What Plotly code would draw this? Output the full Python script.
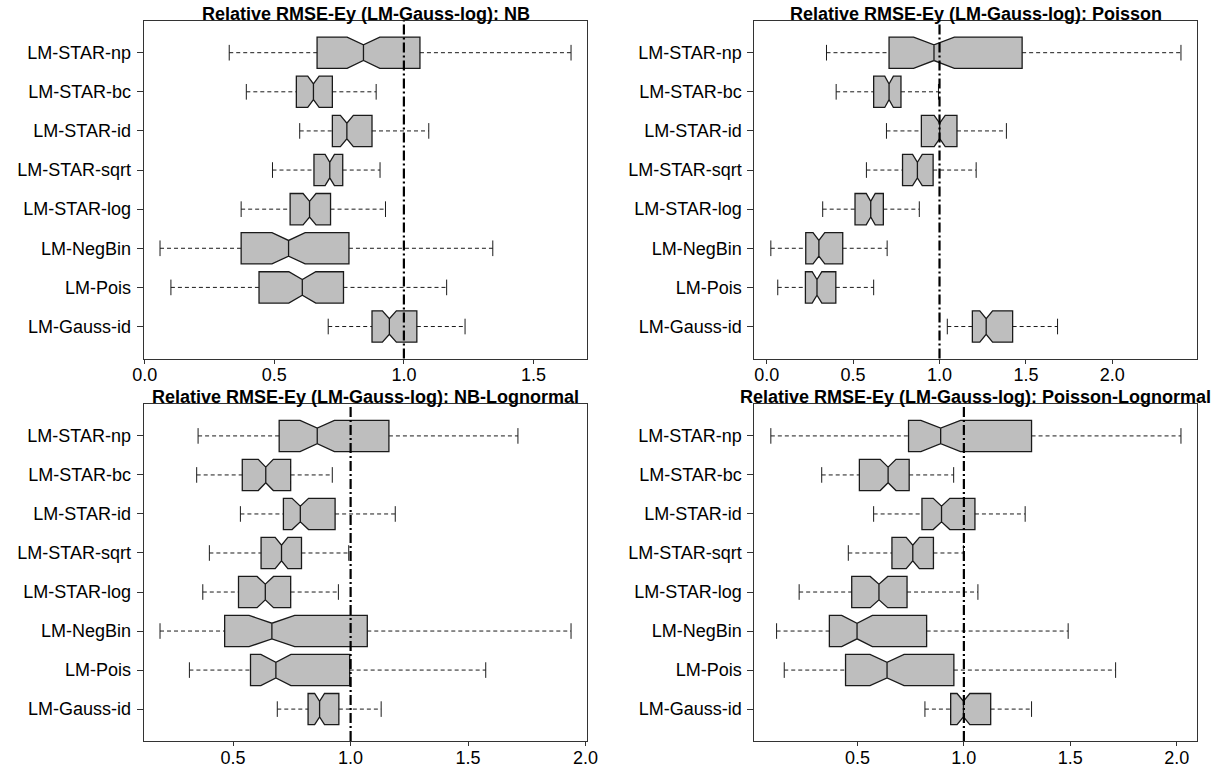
import plotly.graph_objects as go

# ---------------- data ----------------
methods = ["LM-STAR-np", "LM-STAR-bc", "LM-STAR-id", "LM-STAR-sqrt",
           "LM-STAR-log", "LM-NegBin", "LM-Pois", "LM-Gauss-id"]

titles = ["Relative RMSE-Ey (LM-Gauss-log): NB",
          "Relative RMSE-Ey (LM-Gauss-log): Poisson",
          "Relative RMSE-Ey (LM-Gauss-log): NB-Lognormal",
          "Relative RMSE-Ey (LM-Gauss-log): Poisson-Lognormal"]

# Panel 1: NB  (order follows `methods`, top to bottom)
nb_low   = [0.326, 0.392, 0.598, 0.493, 0.372, 0.059, 0.101, 0.708]
nb_q1    = [0.665, 0.585, 0.724, 0.653, 0.561, 0.372, 0.441, 0.877]
nb_med   = [0.844, 0.651, 0.780, 0.714, 0.636, 0.555, 0.608, 0.944]
nb_q3    = [1.062, 0.724, 0.877, 0.764, 0.717, 0.788, 0.767, 1.050]
nb_high  = [1.645, 0.893, 1.096, 0.908, 0.929, 1.343, 1.165, 1.236]
nb_notch = [0.063, 0.022, 0.025, 0.018, 0.025, 0.064, 0.052, 0.027]

# Panel 2: Poisson
po_low   = [0.346, 0.402, 0.693, 0.577, 0.324, 0.024, 0.064, 1.045]
po_q1    = [0.708, 0.619, 0.895, 0.786, 0.511, 0.226, 0.224, 1.190]
po_med   = [0.968, 0.708, 1.001, 0.872, 0.602, 0.302, 0.291, 1.270]
po_q3    = [1.478, 0.777, 1.101, 0.963, 0.675, 0.440, 0.400, 1.423]
po_high  = [2.397, 0.994, 1.387, 1.212, 0.883, 0.697, 0.619, 1.683]
po_notch = [0.118, 0.025, 0.032, 0.028, 0.026, 0.034, 0.028, 0.037]

# Panel 3: NB-Lognormal
nbl_low   = [0.351, 0.345, 0.531, 0.399, 0.371, 0.189, 0.314, 0.688]
nbl_q1    = [0.696, 0.539, 0.714, 0.619, 0.523, 0.464, 0.574, 0.819]
nbl_med   = [0.858, 0.639, 0.786, 0.706, 0.637, 0.665, 0.682, 0.868]
nbl_q3    = [1.163, 0.745, 0.934, 0.791, 0.745, 1.071, 0.996, 0.950]
nbl_high  = [1.712, 0.922, 1.190, 0.992, 0.948, 1.938, 1.575, 1.130]
nbl_notch = [0.073, 0.032, 0.035, 0.027, 0.035, 0.097, 0.064, 0.021]

# Panel 4: Poisson-Lognormal
pol_low   = [0.093, 0.332, 0.576, 0.457, 0.226, 0.120, 0.156, 0.817]
pol_q1    = [0.740, 0.509, 0.803, 0.662, 0.473, 0.368, 0.444, 0.938]
pol_med   = [0.891, 0.644, 0.895, 0.760, 0.601, 0.498, 0.639, 0.998]
pol_q3    = [1.318, 0.743, 1.052, 0.857, 0.733, 0.825, 0.953, 1.126]
pol_high  = [2.020, 0.952, 1.288, 0.998, 1.066, 1.490, 1.713, 1.318]
pol_notch = [0.093, 0.037, 0.039, 0.031, 0.041, 0.072, 0.080, 0.030]

reference_value = 1.0

panels = [
    (nb_low, nb_q1, nb_med, nb_q3, nb_high, nb_notch),
    (po_low, po_q1, po_med, po_q3, po_high, po_notch),
    (nbl_low, nbl_q1, nbl_med, nbl_q3, nbl_high, nbl_notch),
    (pol_low, pol_q1, pol_med, pol_q3, pol_high, pol_notch),
]

# ---------------- layout / style ----------------
W, H = 1228, 768
x_domains = [[135 / W, 587 / W], [757 / W, 1208 / W],
             [135 / W, 587 / W], [757 / W, 1208 / W]]
y_domains = [[1 - 360 / H, 1 - 20.7 / H], [1 - 360 / H, 1 - 20.7 / H],
             [1 - 744 / H, 1 - 405.5 / H], [1 - 744 / H, 1 - 405.5 / H]]

FONT = "Liberation Sans, Arial, Helvetica, sans-serif"
BOX_FILL = "#bebebe"
EDGE = "#1a1a1a"
BOX_W = 0.8
STAPLE = 0.2

n = len(methods)
positions = [n - i for i in range(n)]

fig = go.Figure()
layout_axes = {}
shapes = []
annotations = []

for k, (lo, q1, md, q3, hi, nt) in enumerate(panels):
    sfx = "" if k == 0 else str(k + 1)
    xa, ya = "x" + sfx, "y" + sfx

    # dashed whiskers
    wx, wy = [], []
    for i in range(n):
        wx += [lo[i], q1[i], None, q3[i], hi[i], None]
        wy += [positions[i]] * 2 + [None] + [positions[i]] * 2 + [None]
    fig.add_trace(go.Scatter(x=wx, y=wy, mode="lines",
                             line=dict(color=EDGE, width=1, dash="4px,3px"),
                             hoverinfo="skip", showlegend=False,
                             xaxis=xa, yaxis=ya))
    # staples
    sx, sy = [], []
    for i in range(n):
        for v in (lo[i], hi[i]):
            sx += [v, v, None]
            sy += [positions[i] - STAPLE, positions[i] + STAPLE, None]
    fig.add_trace(go.Scatter(x=sx, y=sy, mode="lines",
                             line=dict(color=EDGE, width=1),
                             hoverinfo="skip", showlegend=False,
                             xaxis=xa, yaxis=ya))

    # notched boxes (whiskers drawn separately as dashed lines)
    fig.add_trace(go.Box(
        orientation="h", y=positions, q1=q1, median=md, q3=q3,
        lowerfence=q1, upperfence=q3, notched=True, notchspan=nt,
        notchwidth=0.25, width=BOX_W, whiskerwidth=0, boxpoints=False,
        fillcolor=BOX_FILL, line=dict(color=EDGE, width=1.3),
        hoverinfo="skip", showlegend=False, xaxis=xa, yaxis=ya))

    dmin, dmax = min(lo), max(hi)
    pad = 0.04 * (dmax - dmin)
    axis_common = dict(showgrid=False, zeroline=False, showline=True,
                       mirror=True, linecolor="#333333", linewidth=1,
                       ticks="outside", tickcolor="#333333",
                       tickfont=dict(family=FONT, size=18, color="black"))
    layout_axes["xaxis" + sfx] = dict(
        axis_common, domain=x_domains[k], anchor=ya,
        range=[dmin - pad, dmax + pad], dtick=0.5, tick0=0,
        tickformat=".1f", ticklen=4, ticklabelstandoff=-4)
    layout_axes["yaxis" + sfx] = dict(
        axis_common, domain=y_domains[k], anchor=xa,
        range=[0.5 - 0.04 * n, n + 0.5 + 0.04 * n],
        tickmode="array", tickvals=positions, ticktext=methods, ticklen=6,
        ticklabelstandoff=2)

    shapes.append(dict(type="line", xref=xa, yref=ya + " domain",
                       x0=reference_value, x1=reference_value, y0=0, y1=1,
                       line=dict(color="black", width=2.2,
                                 dash="10px,3px,2px,3px"),
                       layer="above"))
    annotations.append(dict(
        text="<b>" + titles[k] + "</b>", xref="paper", yref="paper",
        x=sum(x_domains[k]) / 2, y=y_domains[k][1], xanchor="center",
        yanchor="bottom", yshift=-5, showarrow=False,
        font=dict(family=FONT, size=18, color="black")))

fig.update_layout(
    width=W, height=H, margin=dict(l=0, r=0, t=0, b=0),
    paper_bgcolor="white", plot_bgcolor="white", boxmode="overlay",
    shapes=shapes, annotations=annotations, showlegend=False,
    **layout_axes)

fig.write_html("out.html")
